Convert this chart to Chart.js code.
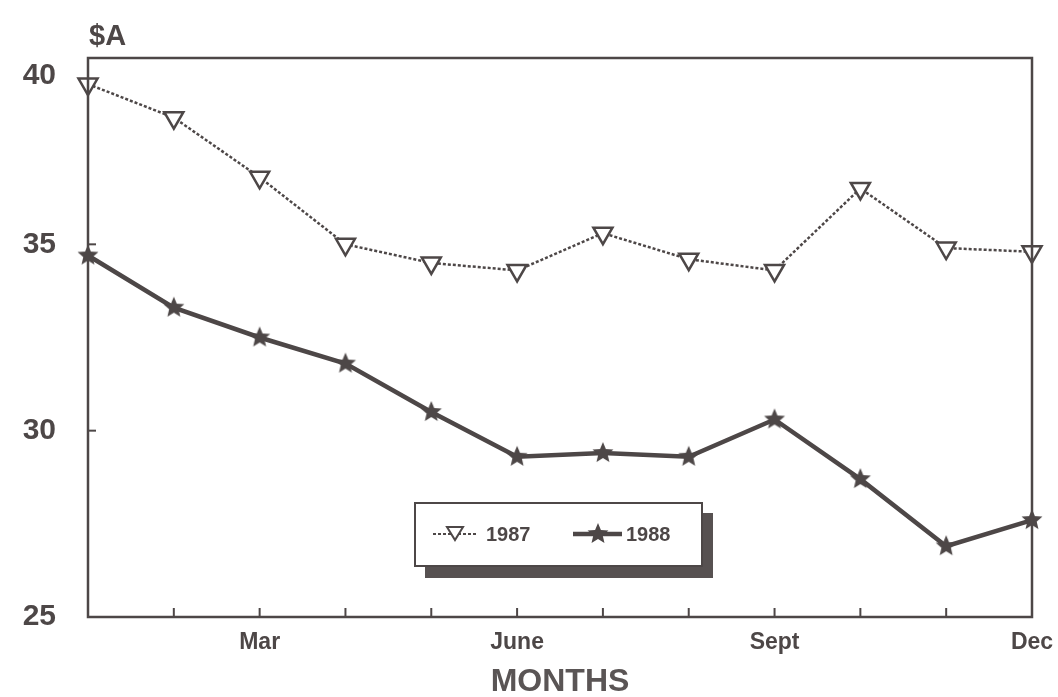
<!DOCTYPE html>
<html>
<head>
<meta charset="utf-8">
<script src="https://cdn.jsdelivr.net/npm/chart.js@4/dist/chart.umd.min.js"></script>
<style>
  html, body { margin: 0; padding: 0; background: #fff; }
  canvas { display: block; }
</style>
</head>
<body>
<canvas id="priceChart" width="1058" height="697"></canvas>
<script>
// meses e valores
const months = ["Jan", "Feb", "Mar", "Apr", "May", "June", "July", "Aug", "Sept", "Oct", "Nov", "Dec"];
const shownMonths = ["Mar", "June", "Sept", "Dec"];
const prices1987 = [39.3, 38.4, 36.8, 35.0, 34.5, 34.3, 35.3, 34.6, 34.3, 36.5, 34.9, 34.8];
const prices1988 = [34.7, 33.3, 32.5, 31.8, 30.5, 29.3, 29.4, 29.3, 30.3, 28.7, 26.9, 27.6];
const yTicks = [25, 30, 35, 40];
const seriesNames = ["1987", "1988"];

const ink = "#4d4747";

// estrela cheia usada como marcador da série 1988
function makeStar(radius, color) {
    const c = document.createElement("canvas");
    c.width = c.height = radius * 2 + 2;
    const g = c.getContext("2d");
    const cx = c.width / 2, cy = c.height / 2;
    g.beginPath();
    for (let i = 0; i < 10; i++) {
        const r = i % 2 === 0 ? radius : radius * 0.45;
        const a = -Math.PI / 2 + i * Math.PI / 5;
        g.lineTo(cx + Math.cos(a) * r, cy + Math.sin(a) * r);
    }
    g.closePath();
    g.fillStyle = color;
    g.fill();
    return c;
}
const star = makeStar(11, ink);

// caixa à volta da área do gráfico, marcas interiores, "$A" e legenda
const framePlugin = {
    id: "frame",
    afterDraw(chart) {
        const { ctx, chartArea: a, scales } = chart;
        ctx.save();
        ctx.strokeStyle = ink;
        ctx.lineWidth = 2.5;
        ctx.strokeRect(a.left, a.top, a.right - a.left, a.bottom - a.top);

        ctx.lineWidth = 2;
        scales.x.ticks.forEach((t, i) => {
            const x = scales.x.getPixelForTick(i);
            ctx.beginPath();
            ctx.moveTo(x, a.bottom);
            ctx.lineTo(x, a.bottom - 9);
            ctx.stroke();
        });
        [30, 35].forEach(v => {
            const y = scales.y.getPixelForValue(v);
            ctx.beginPath();
            ctx.moveTo(a.left, y);
            ctx.lineTo(a.left + 8, y);
            ctx.stroke();
        });

        ctx.fillStyle = ink;
        ctx.font = "bold 29px 'Liberation Sans', Arial, sans-serif";
        ctx.textAlign = "left";
        ctx.textBaseline = "alphabetic";
        ctx.fillText("$A", 89, 45);

        // legenda com sombra
        const lx = 415, ly = 503, lw = 287, lh = 63;
        ctx.fillStyle = "#575151";
        ctx.fillRect(lx + lw, ly + 10, 11, lh + 2);
        ctx.fillRect(lx + 10, ly + lh, lw + 1, 12);
        ctx.fillStyle = "#fff";
        ctx.fillRect(lx, ly, lw, lh);
        ctx.strokeStyle = ink;
        ctx.lineWidth = 2;
        ctx.strokeRect(lx, ly, lw, lh);

        const my = ly + 31;
        ctx.lineWidth = 2;
        ctx.setLineDash([3, 2]);
        ctx.beginPath();
        ctx.moveTo(433, my);
        ctx.lineTo(478, my);
        ctx.stroke();
        ctx.setLineDash([]);
        ctx.beginPath();
        ctx.moveTo(447, my - 7);
        ctx.lineTo(463, my - 7);
        ctx.lineTo(455, my + 6);
        ctx.closePath();
        ctx.fillStyle = "#fff";
        ctx.fill();
        ctx.stroke();

        ctx.lineWidth = 4.5;
        ctx.beginPath();
        ctx.moveTo(573, my);
        ctx.lineTo(622, my);
        ctx.stroke();
        ctx.drawImage(star, 598 - star.width / 2, my - star.height / 2);

        ctx.fillStyle = ink;
        ctx.font = "bold 20px 'Liberation Sans', Arial, sans-serif";
        ctx.textBaseline = "middle";
        ctx.fillText(seriesNames[0], 486, my + 1);
        ctx.fillText(seriesNames[1], 626, my + 1);
        ctx.restore();
    }
};

const ctx = document.getElementById("priceChart");

new Chart(ctx, {
    type: "line",
    data: {
        labels: months,
        datasets: [
            {
                label: seriesNames[0],
                data: prices1987,
                borderColor: ink,
                borderWidth: 2.5,
                borderDash: [3, 2],
                pointStyle: "triangle",
                pointRotation: 180,
                pointRadius: 11,
                pointBorderWidth: 2.5,
                pointBorderColor: ink,
                pointBackgroundColor: "#fff",
                clip: false
            },
            {
                label: seriesNames[1],
                data: prices1988,
                borderColor: ink,
                borderWidth: 4.5,
                pointStyle: star,
                clip: false
            }
        ]
    },
    options: {
        responsive: false,
        animation: false,
        layout: { padding: { top: 58, right: 26, left: 0, bottom: 0 } },
        plugins: {
            legend: { display: false },
            tooltip: { enabled: false }
        },
        scales: {
            x: {
                grid: { display: false, drawTicks: false },
                border: { display: false },
                afterFit: scale => {
                    scale.height = 80;
                    scale.paddingLeft = 0;
                    scale.paddingRight = 0;
                },
                ticks: {
                    autoSkip: false,
                    maxRotation: 0,
                    padding: 12,
                    color: ink,
                    font: { family: "'Liberation Sans', Arial, sans-serif", size: 23, weight: "bold" },
                    callback: (value, index) => shownMonths.includes(months[index]) ? months[index] : ""
                },
                title: {
                    display: true,
                    text: "MONTHS",
                    color: "#5a5555",
                    padding: { top: 0, bottom: -4 },
                    font: { family: "'Liberation Sans', Arial, sans-serif", size: 32, weight: "bold" }
                }
            },
            y: {
                min: 25,
                max: 40,
                grid: { display: false, drawTicks: false },
                border: { display: false },
                afterFit: scale => {
                    scale.width = 88;
                    scale.paddingTop = 0;
                    scale.paddingBottom = 0;
                },
                afterBuildTicks: scale => { scale.ticks = yTicks.map(v => ({ value: v })); },
                ticks: {
                    padding: 32,
                    color: ink,
                    font: { family: "'Liberation Sans', Arial, sans-serif", size: 30, weight: "bold" },
                    callback: v => v === 40 ? ["", "40"] : String(v)
                }
            }
        }
    },
    plugins: [framePlugin]
});
</script>
</body>
</html>
